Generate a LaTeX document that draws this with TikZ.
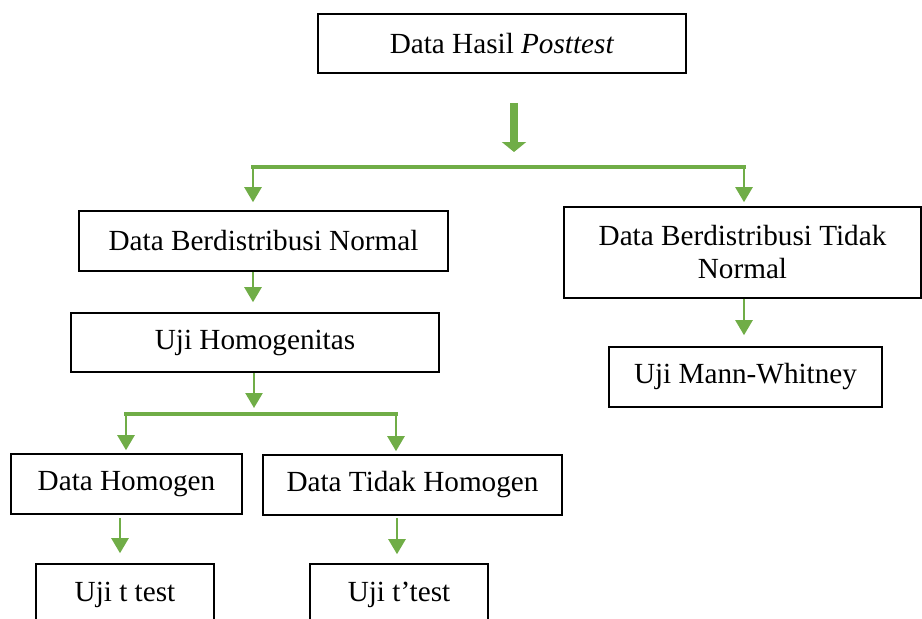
\documentclass[tikz,border=0pt]{standalone}
\usepackage{fontspec}
\setmainfont{Liberation Serif}
\usepackage{tikz}
\usetikzlibrary{arrows.meta,calc,positioning}
\usepackage{xcolor}
\definecolor{daun}{HTML}{70AD47}

\begin{document}
\begin{tikzpicture}[x=0.5pt,y=-0.5pt,
  kotak/.style={draw, line width=0.8pt, inner sep=0pt, align=center,
    font=\fontsize{14.6}{16.5}\selectfont},
  panah/.style={daun, line width=1.2pt, -{Triangle[width=8.5pt,length=7.5pt]}},
  garis/.style={daun, line width=2pt, line cap=rect},
  tebal/.style={daun, line width=4pt, -{Triangle[width=12pt,length=5pt]}}]
\useasboundingbox (0,0) rectangle (922,618);
\node [kotak, minimum width=184pt, minimum height=29.5pt] (hasil) at (502,43.5) {Data Hasil \textit{Posttest}};
\node [kotak, minimum width=184.5pt, minimum height=30pt] (normal) at (263.5,241) {Data Berdistribusi Normal};
\node [kotak, minimum width=178.5pt, minimum height=45.5pt] (tdknormal) at (742.5,252.5) {Data Berdistribusi Tidak\\Normal};
\node [kotak, minimum width=184pt, minimum height=29.5pt] (homogenitas) at (255,342.5) {Uji Homogenitas};
\node [kotak, minimum width=136.5pt, minimum height=30pt] (mann) at (745.5,377) {Uji Mann-Whitney};
\node [kotak, minimum width=115.5pt, minimum height=30pt] (homogen) at (126.5,484) {Data Homogen};
\node [kotak, minimum width=149.5pt, minimum height=30pt] (tdkhomogen) at (412.5,485) {Data Tidak Homogen};
\node [kotak, minimum width=89pt, minimum height=31pt] (ttest) at (125,595) {Uji t test};
\node [kotak, minimum width=89pt, minimum height=31pt] (tktest) at (399,595) {Uji t’test};
\coordinate (pecah1) at (514,167);
\coordinate (kiri1) at (253,167);
\coordinate (kanan1) at (744,167);
\coordinate (pecah2) at (254,414);
\coordinate (kiri2) at (126,414);
\coordinate (kanan2) at (396,414);
\coordinate (jalur1) at (120,0);
\coordinate (jalur2) at (397,0);
\draw [tebal, shorten <=14.5pt, shorten >=7.5pt] (hasil.south -| pecah1) -- (pecah1);
\draw [garis] (kiri1) -- (kanan1);
\draw [panah, shorten >=4pt] (kiri1) -- (kiri1 |- normal.north);
\draw [panah, shorten >=2pt] (kanan1) -- (kanan1 |- tdknormal.north);
\draw [panah, shorten >=5pt] (normal.south -| kiri1) -- (homogenitas.north -| kiri1);
\draw [panah, shorten >=3pt] (homogenitas.south -| pecah2) -- (pecah2);
\draw [panah, shorten >=5.5pt] (tdknormal.south -| kanan1) -- (mann.north -| kanan1);
\draw [garis] (kiri2) -- (kanan2);
\draw [panah, shorten >=1.5pt] (kiri2) -- (kiri2 |- homogen.north);
\draw [panah, shorten >=1.5pt] (kanan2) -- (kanan2 |- tdkhomogen.north);
\draw [panah, shorten <=1.5pt, shorten >=5pt] (homogen.south -| jalur1) -- (ttest.north -| jalur1);
\draw [panah, shorten <=1pt, shorten >=4.5pt] (tdkhomogen.south -| jalur2) -- (tktest.north -| jalur2);
\end{tikzpicture}
\end{document}
